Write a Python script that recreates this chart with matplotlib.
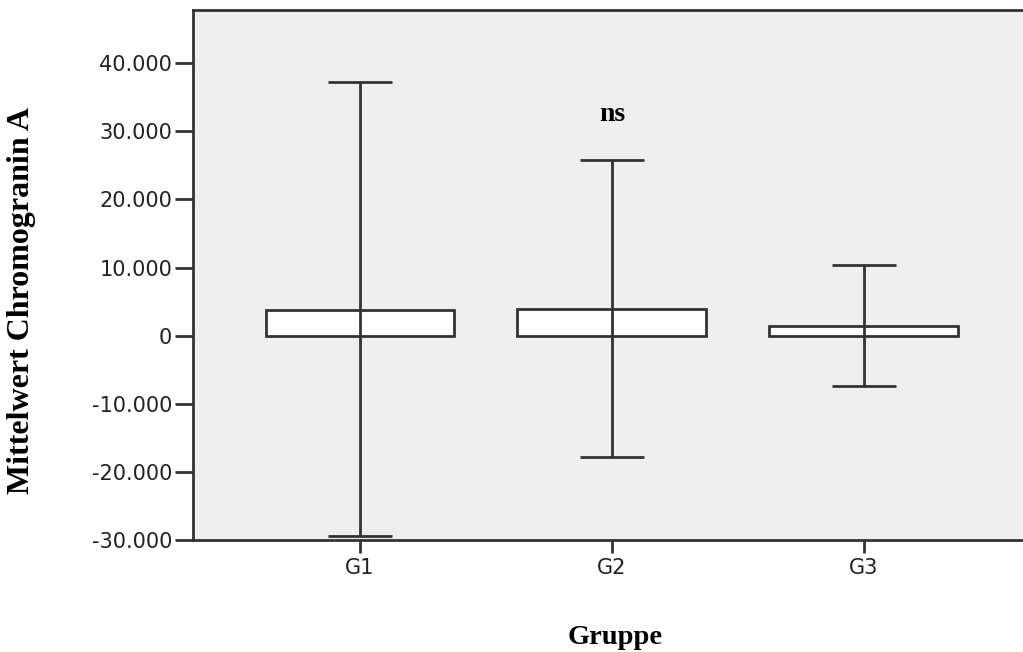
import matplotlib
matplotlib.use("Agg")
import matplotlib.pyplot as plt
import matplotlib.ticker as ticker

# group means and error bar ends
groups = ['G1', 'G2', 'G3']
means = [3800, 3950, 1450]
upper = [37250, 25750, 10300]
lower = [-29450, -17750, -7350]
yticks = [-30000, -20000, -10000, 0, 10000, 20000, 30000, 40000]

line_col = '#333333'

fig = plt.figure(figsize=(10.23, 6.52), dpi=100)
ax = fig.add_axes([193/1023, 1 - 540/652, 837/1023, 530/652])
ax.set_facecolor('#efefef')

x = list(range(len(groups)))
ax.bar(x, means, width=0.75, color='white', edgecolor=line_col, linewidth=2, zorder=2)

err_lo = [m - l for m, l in zip(means, lower)]
err_hi = [u - m for m, u in zip(means, upper)]
ax.errorbar(x, means, yerr=[err_lo, err_hi], fmt='none', ecolor=line_col,
            elinewidth=2, capsize=22.7, capthick=2, zorder=3)

ax.set_xlim(-0.663, 2.66)
ax.set_ylim(-30000, 47800)
ax.set_xticks(x)
ax.set_xticklabels(groups)
ax.set_yticks(yticks)
ax.yaxis.set_major_formatter(ticker.FuncFormatter(
    lambda v, p: f'{int(v):,}'.replace(',', '.')))

for s in ax.spines.values():
    s.set_color(line_col)
    s.set_linewidth(2)
ax.spines['right'].set_visible(False)

ax.tick_params(axis='y', length=13, width=2, color=line_col, pad=2,
               labelsize=15, labelcolor='#222222')
ax.tick_params(axis='x', length=9, width=2, color=line_col, pad=4,
               labelsize=15, labelcolor='#222222')
for lab in ax.get_xticklabels() + ax.get_yticklabels():
    lab.set_family('DejaVu Sans')

ax.text(1, 32400, 'ns', ha='center', va='center', fontsize=20,
        fontweight='bold', family='Liberation Serif')

fig.text(615/1023, 1 - 638/652, 'Gruppe', ha='center', va='center',
         fontsize=20.5, fontweight='bold', family='Liberation Serif')
fig.text(22/1023, 1 - 300/652, 'Mittelwert Chromogranin A', ha='center',
         va='center', rotation=90, fontsize=23, fontweight='bold',
         family='Liberation Serif')

fig.savefig('out.png', dpi=100)
